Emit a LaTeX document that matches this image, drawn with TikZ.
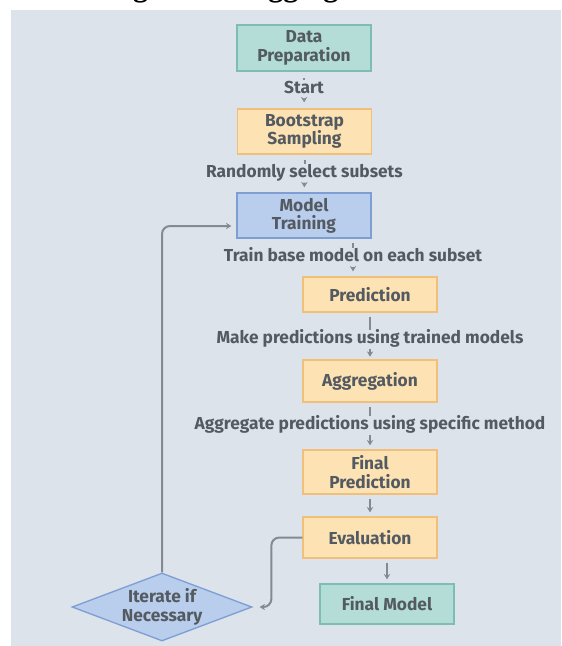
\documentclass[tikz,border=0pt]{standalone}
\usepackage{fontspec}
\setmainfont{Fira Sans}
\newfontfamily\captionfont{Liberation Serif}
\usetikzlibrary{calc, shapes.geometric, arrows.meta}

\definecolor{panelbg}{RGB}{220,227,235}
\definecolor{tealfill}{RGB}{179,221,214}
\definecolor{tealline}{RGB}{125,189,179}
\definecolor{orangefill}{RGB}{253,226,179}
\definecolor{orangeline}{RGB}{240,192,122}
\definecolor{bluefill}{RGB}{185,205,236}
\definecolor{blueline}{RGB}{126,158,212}
\definecolor{wiregrey}{RGB}{131,138,146}
\definecolor{textgrey}{RGB}{84,90,97}

\newcommand{\flowfont}{\fontsize{14.8}{15.6}\selectfont\bfseries}

\tikzset{
    my-box/.style={
        rectangle, draw, line width=0.4mm, minimum width=40.2mm,
        inner sep=0pt, align=center, text=textgrey, font=\flowfont
    },
    my-teal-box/.style={
        my-box, fill=tealfill, draw=tealline
    },
    my-orange-box/.style={
        my-box, fill=orangefill, draw=orangeline
    },
    my-blue-box/.style={
        my-box, fill=bluefill, draw=blueline
    },
    my-decision/.style={
        diamond, draw=blueline, fill=bluefill, line width=0.4mm,
        minimum width=54mm, minimum height=20.4mm, aspect=2.65,
        inner sep=0pt, align=center, text=textgrey, font=\flowfont
    },
    my-label/.style={
        inner sep=0pt, text height=3.5mm, text depth=1mm,
        text=textgrey, font=\flowfont
    },
    my-wire/.style={
        draw=wiregrey, line width=0.6mm
    },
    my-arrow/.style={
        my-wire, -{Stealth[length=1.6mm, width=1.9mm]}
    },
}

\begin{document}
\begin{tikzpicture}[x=0.3mm, y=-0.3mm]

        % PAGE AND PANEL
        \useasboundingbox (0, 0) rectangle (561, 646);
        \fill[panelbg] (11, 10) rectangle (561, 646);
        \node[font=\captionfont\bfseries\fontsize{25.6}{30}\selectfont, anchor=base] (CAPTION) at (292, -3.5) {Figure 4: Bagging Flowchart};

        % MAIN COLUMN
        \node[my-teal-box, minimum height=13.8mm]   (PREP)  at (304, 48)                 {Data\\Preparation};
        \node[my-orange-box, minimum height=13.5mm] (BOOT)  at ($(PREP) + (0.5, 83.5)$)  {Bootstrap\\Sampling};
        \node[my-blue-box, minimum height=13.5mm]   (TRAIN) at ($(BOOT) + (-0.5, 84)$)   {Model\\Training};

        % SHIFTED COLUMN
        \node[my-orange-box, minimum height=10.5mm] (PRED)   at ($(TRAIN) + (66, 79)$)  {Prediction};
        \node[my-orange-box, minimum height=12.6mm] (AGGR)   at ($(PRED) + (0, 86.5)$)  {Aggregation};
        \node[my-orange-box, minimum height=13.2mm] (FPRED)  at ($(AGGR) + (0, 91)$)    {Final\\Prediction};
        \node[my-orange-box, minimum height=12.3mm] (EVAL)   at ($(FPRED) + (0, 65.5)$) {Evaluation};
        \node[my-teal-box, minimum height=12mm]     (FMODEL) at ($(EVAL) + (17, 66.5)$) {Final Model};

        % DECISION
        \node[my-decision] (ITER) at (162, 607) {Iterate if\\Necessary};

        % EDGE LABELS
        \node[my-label] (STARTLBL) at ($(PREP) + (0, 41)$)   {Start};
        \node[my-label] (RANDLBL)  at ($(BOOT) + (0, 41.5)$) {Randomly select subsets};
        \node[my-label] (BASELBL)  at (353, 257)             {Train base model on each subset};
        \node[my-label] (MAKELBL)  at ($(PRED) + (0, 44.5)$) {Make predictions using trained models};
        \node[my-label] (AGGLBL)   at ($(AGGR) + (0, 44)$)   {Aggregate predictions using specific method};

        % CONNECTIONS THROUGH LABELS
        \draw[my-wire, shorten <=1.8mm, shorten >=0.4mm]  (PREP) -- (STARTLBL);
        \draw[my-arrow, shorten <=0.6mm, shorten >=1.8mm] (STARTLBL) -- (BOOT);
        \draw[my-wire, shorten <=1.5mm, shorten >=0.4mm]  (BOOT) -- (RANDLBL);
        \draw[my-arrow, shorten <=0.6mm, shorten >=1.5mm] (RANDLBL) -- (TRAIN);
        \draw[my-wire, shorten <=1.2mm, shorten >=0.4mm]  (TRAIN.south -| BASELBL) -- (BASELBL);
        \draw[my-arrow, shorten <=0.6mm, shorten >=1.5mm] (BASELBL) -- (BASELBL |- PRED.north);
        \draw[my-wire, shorten <=1.2mm, shorten >=0.4mm]  (PRED) -- (MAKELBL);
        \draw[my-arrow, shorten <=0.6mm, shorten >=0.8mm] (MAKELBL) -- (AGGR);
        \draw[my-wire, shorten <=1.2mm, shorten >=0.4mm]  (AGGR) -- (AGGLBL);
        \draw[my-arrow, shorten <=0.6mm, shorten >=1.2mm] (AGGLBL) -- (FPRED);

        % PLAIN CONNECTIONS
        \draw[my-arrow, shorten <=1.2mm, shorten >=1.2mm] (FPRED) -- (EVAL);
        \draw[my-arrow, shorten <=1.2mm, shorten >=1.2mm] (EVAL.south -| FMODEL) -- (FMODEL);

        % FEEDBACK LOOP
        \coordinate (EVALTURN) at ($(EVAL.west) + (-31, 0)$);
        \coordinate (ITERIN)   at ($(ITER.east) + (7, 0)$);
        \coordinate (TRAININ)  at ($(TRAIN.west) + (-5, 10.5)$);
        \draw[my-arrow, rounded corners=2.4mm] (EVAL.west) -- (EVALTURN) |- (ITERIN);
        \draw[my-arrow, rounded corners=2.4mm] (ITER.north) |- (TRAININ);

    \end{tikzpicture}
\end{document}
